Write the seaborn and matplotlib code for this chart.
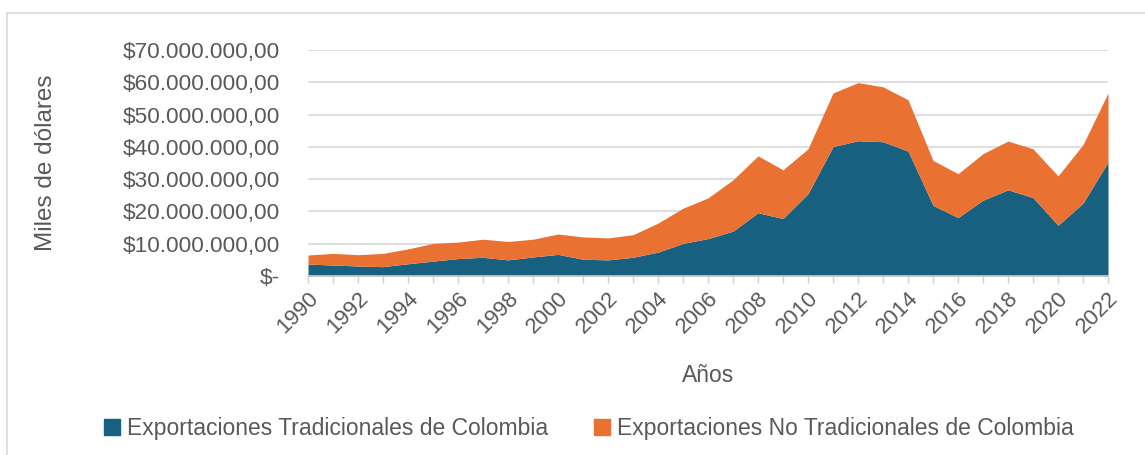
import numpy as np
import pandas as pd
import matplotlib
matplotlib.use("Agg")
import matplotlib.pyplot as plt
import seaborn as sns
from matplotlib.ticker import FuncFormatter, MultipleLocator
from matplotlib.patches import Patch
from matplotlib.lines import Line2D

# ------------------ data (miles de dolares) ------------------
years = list(range(1990, 2023))
tradicionales = [3.7, 3.4, 3.1, 2.9, 3.8, 4.6, 5.4, 5.8, 5.0, 5.9, 6.7, 5.2,
                 5.0, 5.8, 7.4, 10.1, 11.6, 13.9, 19.6, 17.8, 25.5, 40.1, 41.9,
                 41.6, 38.7, 21.9, 18.1, 23.5, 26.7, 24.3, 15.7, 22.6, 35.3]
totales = [6.5, 7.0, 6.6, 7.0, 8.4, 10.1, 10.5, 11.4, 10.7, 11.4, 13.0, 12.1,
           11.8, 12.8, 16.4, 21.0, 24.2, 29.8, 37.2, 32.9, 39.4, 56.7, 59.9,
           58.6, 54.6, 35.8, 31.7, 37.9, 41.8, 39.4, 31.0, 40.7, 56.7]
series_names = ["Exportaciones Tradicionales de Colombia",
                "Exportaciones No Tradicionales de Colombia"]
colors = ["#17607f", "#e97132"]

df = pd.DataFrame({"year": years,
                   "trad": np.array(tradicionales) * 1e6,
                   "total": np.array(totales) * 1e6})
df["no_trad"] = df["total"] - df["trad"]

sns.set_theme(style="white")
plt.rcParams["font.family"] = ["Liberation Sans", "DejaVu Sans"]
grey = "#595959"

fig = plt.figure(figsize=(11.45, 4.55), dpi=100)
ax = fig.add_axes([0.269, 0.3934, 0.6987, 0.4966])

ax.stackplot(df["year"], df["trad"], df["no_trad"], colors=colors, lw=0)

ax.set_xlim(1990, 2022)
ax.set_ylim(0, 70e6)
ax.yaxis.set_major_locator(MultipleLocator(10e6))

def money(v, pos):
    if v == 0:
        return "$-"
    s = f"{v:,.2f}".replace(",", "X").replace(".", ",").replace("X", ".")
    return "$" + s

ax.yaxis.set_major_formatter(FuncFormatter(money))
ax.set_xticks(years[::2])
ax.set_xticks(years, minor=True)
ax.tick_params(axis="y", length=0, pad=20, labelsize=16.2, labelcolor=grey)
ax.tick_params(axis="x", which="both", direction="out", length=5, width=1,
               color="#d0d0d0", bottom=True, labelsize=16, labelcolor=grey)
for lab in ax.get_xticklabels():
    lab.set_rotation(45)
    lab.set_ha("right")
    lab.set_rotation_mode("anchor")

ax.grid(axis="y", color="#d9d9d9", lw=1.2)
ax.set_axisbelow(True)
for s in ["top", "right", "left"]:
    ax.spines[s].set_visible(False)
ax.spines["bottom"].set_color("#d0d0d0")
ax.spines["bottom"].set_linewidth(1.2)

ax.set_ylabel("Miles de dólares", fontsize=17.5, color=grey)
ax.yaxis.set_label_coords(-0.314, 0.5)
ax.set_xlabel("Años", fontsize=16.5, color=grey)
ax.xaxis.set_label_coords(0.5, -0.39)

handles = [Patch(color=c) for c in colors]
fig.legend(handles, series_names, loc="center", bbox_to_anchor=(0.514, 0.059),
           ncol=2, frameon=False, handlelength=0.7, handleheight=0.7,
           handletextpad=0.3, columnspacing=2.0,
           prop={"size": 16.5}, labelcolor=grey)

# chart border
fig.add_artist(Line2D([7 / 1145, 7 / 1145], [0, 1 - 13 / 455], color="#d9d9d9", lw=1.2))
fig.add_artist(Line2D([7 / 1145, 1], [1 - 13 / 455, 1 - 13 / 455], color="#d9d9d9", lw=1.2))

fig.savefig("out.png", dpi=100)
